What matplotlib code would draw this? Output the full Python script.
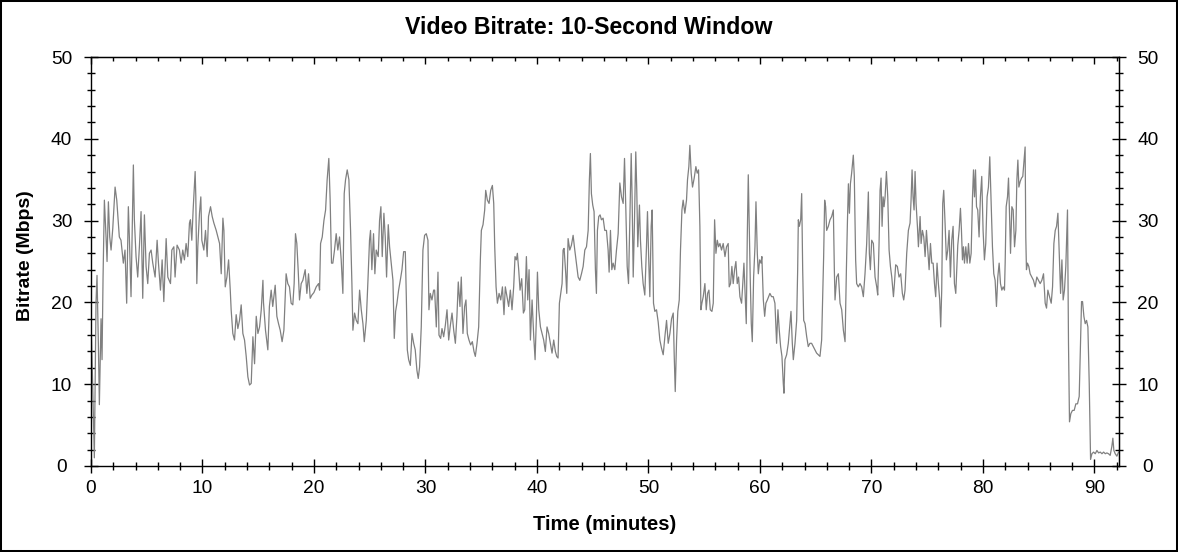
import matplotlib
matplotlib.use("Agg")
import matplotlib.pyplot as plt
from matplotlib.patches import Rectangle
from matplotlib.ticker import MultipleLocator

plt.rcParams['font.family'] = ['Liberation Sans', 'DejaVu Sans']

# ---------------------------------------------------------------------------
# Bitrate readings (minutes, Mbps), split into chunks of roughly 15 minutes
# ---------------------------------------------------------------------------
t_00 = [0.0, 0.15, 0.3, 0.45, 0.54, 0.66, 0.75, 0.9, 0.99, 1.08,
        1.2, 1.35, 1.44, 1.56, 1.68, 1.8, 1.95, 2.16, 2.31, 2.54,
        2.69, 2.9, 3.05, 3.2, 3.35, 3.44, 3.59, 3.8, 3.89, 4.04,
        4.19, 4.34, 4.49, 4.64, 4.79, 4.94, 5.09, 5.24, 5.39, 5.54,
        5.75, 5.93, 6.05, 6.23, 6.38, 6.53, 6.74, 6.89, 7.13, 7.25,
        7.43, 7.54, 7.72, 7.93, 8.08, 8.23, 8.38, 8.53, 8.68, 8.83,
        8.92, 9.04, 9.16, 9.34, 9.4, 9.49, 9.58, 9.73, 9.85, 9.94,
        10.12, 10.27, 10.42, 10.54, 10.72, 10.87, 11.02, 11.23, 11.38, 11.53,
        11.68, 11.83, 11.92, 12.04, 12.19, 12.34, 12.49, 12.57, 12.72, 12.87,
        13.02, 13.17, 13.32, 13.47, 13.62, 13.77, 13.92, 14.07, 14.22, 14.37,
        14.52, 14.67, 14.82, 14.97, 15.12, 15.27, 15.42]
v_00 = [18, 10, 1, 20, 23.3, 15, 7.5, 18, 13, 23,
        32.5, 28, 25, 32.3, 28, 26.4, 29, 34.1, 32.5, 28,
        27.6, 24.8, 26.4, 19.9, 31.7, 28, 20.7, 36.8, 30.1, 25.6,
        23.1, 26.8, 31.1, 20.5, 30.7, 24.4, 22.3, 26, 26.4, 24.8,
        23.1, 27.6, 24.8, 21.5, 25.2, 20.1, 27.8, 23.1, 22.3, 26.4,
        26.8, 23.1, 27, 26.4, 24.8, 26.4, 25.2, 27.2, 25.6, 29.7,
        30.1, 27.6, 31.3, 36, 33, 22.3, 26.8, 30.9, 32.9, 27.6,
        26.4, 28.8, 25.6, 30.5, 31.7, 30.5, 29.7, 28.8, 28, 27.2,
        23.5, 30.3, 28.8, 21.9, 23.1, 25.2, 21.5, 19.1, 16.2, 15.4,
        18.5, 16.8, 17.8, 19.7, 16.2, 15.4, 13.4, 10.9, 9.9, 10.1,
        15.8, 12.5, 18.3, 16.2, 17, 19.1, 22.7]

t_15 = [15.47, 15.65, 15.86, 16.0, 16.16, 16.3, 16.52, 16.67, 16.82, 16.97,
        17.14, 17.3, 17.5, 17.65, 17.8, 17.95, 18.1, 18.22, 18.34, 18.46,
        18.58, 18.7, 18.85, 19.0, 19.21, 19.36, 19.51, 19.66, 19.81, 19.99,
        20.2, 20.41, 20.5, 20.59, 20.74, 20.89, 21.04, 21.18, 21.33, 21.45,
        21.57, 21.69, 21.84, 21.99, 22.14, 22.29, 22.44, 22.59, 22.71, 22.83,
        22.98, 23.13, 23.28, 23.4, 23.49, 23.64, 23.79, 23.94, 24.09, 24.24,
        24.39, 24.51, 24.69, 24.84, 24.98, 25.07, 25.19, 25.34, 25.46, 25.58,
        25.76, 25.88, 26.0, 26.12, 26.27, 26.39, 26.51, 26.66, 26.78, 26.93,
        27.08, 27.2, 27.32, 27.44, 27.59, 27.74, 27.89, 28.04, 28.19, 28.28,
        28.37, 28.49, 28.64, 28.79, 28.94, 29.08, 29.23, 29.35, 29.47, 29.62,
        29.77, 29.92, 30.07, 30.22, 30.31, 30.43, 30.58, 30.73]
v_15 = [20, 16.6, 14.2, 19.5, 21.5, 19.5, 22.1, 18.3, 17.4, 16.6,
        15.2, 16.6, 23.5, 22.3, 21.9, 19.9, 19.7, 22.3, 28.4, 27.2,
        24, 20.3, 22.3, 22.7, 24, 21.1, 23.5, 20.5, 20.9, 21.2,
        21.9, 22.3, 21.5, 27.2, 28, 30, 31.3, 35, 37.6, 32.5,
        24.8, 24.8, 26.4, 28.4, 26.4, 28, 25.2, 21.1, 33.3, 35,
        36.2, 35, 28.8, 22.3, 16.6, 18.7, 17.8, 17.4, 21.5, 19.1,
        17.4, 15.2, 17.8, 22.7, 27.6, 28.8, 24, 28.4, 23.5, 26.4,
        25.6, 30, 31.7, 25.6, 30.9, 28, 23.1, 29.5, 26.8, 24.8,
        22.7, 15.6, 18.9, 19.9, 21.5, 22.7, 24, 26.2, 26.2, 20.7,
        14.2, 13, 12.3, 16.2, 15, 14.2, 11.7, 10.7, 12.1, 17,
        26.4, 28.2, 28.4, 27.6, 19.1, 21.1, 20.3, 21.5]

t_31 = [30.82, 30.97, 31.12, 31.21, 31.36, 31.48, 31.63, 31.78, 31.93, 32.08,
        32.23, 32.38, 32.53, 32.68, 32.82, 32.94, 33.09, 33.21, 33.36, 33.51,
        33.63, 33.75, 33.9, 34.05, 34.2, 34.35, 34.47, 34.62, 34.77, 34.92,
        35.01, 35.16, 35.31, 35.4, 35.55, 35.7, 35.85, 36.0, 36.12, 36.21,
        36.33, 36.45, 36.6, 36.75, 36.9, 37.04, 37.16, 37.31, 37.46, 37.61,
        37.76, 37.91, 38.03, 38.15, 38.24, 38.36, 38.48, 38.63, 38.78, 38.9,
        39.05, 39.17, 39.29, 39.41, 39.56, 39.71, 39.83, 39.95, 40.04, 40.16,
        40.31, 40.46, 40.6, 40.75, 40.9, 41.05, 41.2, 41.35, 41.5, 41.65,
        41.77, 41.89, 42.01, 42.13, 42.25, 42.34, 42.43, 42.58, 42.67, 42.79,
        42.94, 43.09, 43.24, 43.39, 43.54, 43.69, 43.84, 43.99, 44.14, 44.29,
        44.44, 44.59, 44.7, 44.79, 44.88, 45.0, 45.12, 45.24, 45.33, 45.42,
        45.54, 45.66, 45.78, 45.93, 46.08, 46.23, 46.38, 46.47, 46.59, 46.71,
        46.83, 46.98]
v_31 = [21.5, 17, 23.7, 16, 15.6, 16.8, 15.8, 17.2, 19.1, 15.4,
        17.2, 18.7, 16.6, 15, 18.3, 22.5, 19.5, 23.1, 16.2, 19.5,
        20.3, 16.2, 15.4, 14.8, 15.2, 14, 13.4, 15, 17, 25.2,
        28.8, 29.5, 31.3, 33.7, 32.5, 32.1, 33.7, 34.3, 32.1, 26.8,
        21.9, 19.9, 21.1, 20.3, 21.9, 18.5, 21.9, 20.7, 19.5, 21.5,
        19.1, 21.9, 25.6, 25.2, 26, 24, 21.5, 22.9, 18.7, 19.1,
        25.6, 20.3, 24, 15.4, 20.3, 15.8, 13, 18.3, 23.7, 19.1,
        17, 16.2, 15.4, 14, 17, 16.2, 15, 13.8, 15.4, 14,
        13.4, 13.2, 19.9, 21.1, 22.3, 26.4, 26.6, 23.5, 21.1, 27.8,
        26.4, 27, 28.2, 26.4, 24.8, 23.1, 22.7, 23.5, 24.4, 26.4,
        26.8, 28.8, 35, 38.2, 33.3, 31.9, 31.1, 24, 21.1, 28.8,
        30.5, 30.7, 30.1, 30.3, 28.8, 28.8, 26.4, 23.7, 28.8, 24,
        24.8, 24]

t_47 = [47.13, 47.28, 47.43, 47.58, 47.73, 47.85, 47.97, 48.09, 48.21, 48.33,
        48.45, 48.53, 48.63, 48.74, 48.86, 48.95, 49.04, 49.19, 49.28, 49.4,
        49.52, 49.67, 49.82, 49.91, 50.03, 50.12, 50.24, 50.33, 50.45, 50.57,
        50.72, 50.87, 51.02, 51.17, 51.32, 51.47, 51.62, 51.77, 51.92, 52.07,
        52.22, 52.31, 52.4, 52.52, 52.63, 52.76, 52.87, 53.0, 53.11, 53.26,
        53.41, 53.5, 53.62, 53.71, 53.83, 53.95, 54.1, 54.25, 54.37, 54.49,
        54.61, 54.7, 54.79, 54.91, 55.06, 55.18, 55.3, 55.42, 55.54, 55.69,
        55.81, 55.93, 56.05, 56.17, 56.29, 56.41, 56.55, 56.7, 56.86, 57.0,
        57.15, 57.24, 57.36, 57.48, 57.6, 57.72, 57.84, 57.96, 58.08, 58.2,
        58.35, 58.44, 58.56, 58.68, 58.77, 58.86, 58.95, 59.04, 59.13, 59.22,
        59.31, 59.43, 59.55, 59.64, 59.76, 59.85, 59.97, 60.09, 60.17, 60.3,
        60.42, 60.53, 60.66, 60.77, 60.89, 61.04, 61.19, 61.34, 61.49, 61.61,
        61.73, 61.85, 61.97, 62.09, 62.15]
v_47 = [26.4, 28.4, 34.6, 32.9, 32.1, 37.6, 31.3, 24.4, 22.3, 30.5,
        38.2, 32.9, 23.1, 29.7, 38.4, 33.7, 26.8, 31.9, 27.6, 24.4,
        22.3, 20.9, 26.8, 31.1, 24.8, 20.7, 29.3, 31.3, 19.9, 18.9,
        19.1, 17.6, 15.4, 14.4, 13.6, 15.8, 17.8, 15, 16.2, 18,
        18.7, 13.4, 9.1, 15.4, 18.9, 20.3, 26.4, 31.3, 32.5, 30.9,
        32.5, 35, 36.6, 39.2, 35.8, 34.1, 35.2, 36.6, 35.8, 36.2,
        29.3, 19.1, 19.9, 20.7, 22.3, 19.1, 21.1, 21.5, 19.1, 18.9,
        19.9, 30.1, 26, 27.6, 26.8, 27.2, 26.4, 27.2, 25.6, 26.8,
        27.2, 21.9, 22.3, 24.4, 22.3, 24, 25, 22.3, 23.1, 20.7,
        19.9, 21.9, 24.8, 20.7, 17.4, 28, 35.6, 29.3, 22.7, 17.4,
        15.2, 23.1, 26.8, 32.3, 26, 23.5, 25.2, 24.8, 25.6, 20.3,
        18.3, 19.9, 20.3, 20.7, 21.1, 20.7, 20.7, 19.9, 15, 19.1,
        16.6, 14.6, 13.4, 10.1, 8.9]

t_62 = [62.24, 62.39, 62.54, 62.69, 62.78, 62.9, 62.99, 63.14, 63.29, 63.38,
        63.44, 63.53, 63.65, 63.74, 63.83, 63.92, 64.04, 64.19, 64.33, 64.48,
        64.63, 64.78, 64.93, 65.08, 65.23, 65.38, 65.53, 65.62, 65.71, 65.8,
        65.89, 65.98, 66.13, 66.28, 66.43, 66.58, 66.67, 66.73, 66.88, 67.03,
        67.18, 67.33, 67.48, 67.63, 67.75, 67.84, 67.93, 68.02, 68.11, 68.22,
        68.37, 68.46, 68.58, 68.67, 68.82, 68.97, 69.12, 69.27, 69.42, 69.57,
        69.72, 69.81, 69.9, 70.02, 70.17, 70.32, 70.47, 70.56, 70.68, 70.77,
        70.86, 70.95, 71.04, 71.13, 71.22, 71.34, 71.46, 71.58, 71.7, 71.82,
        71.97, 72.06, 72.17, 72.32, 72.47, 72.62, 72.77, 72.89, 73.01, 73.16,
        73.31, 73.46, 73.55, 73.64, 73.73, 73.82, 73.91, 74.0, 74.12, 74.21,
        74.36, 74.45, 74.57, 74.69, 74.81, 74.93, 75.05, 75.17, 75.29, 75.41,
        75.53, 75.65, 75.76, 75.88, 76.0, 76.12, 76.21, 76.3, 76.39, 76.48,
        76.6, 76.72, 76.84, 76.96, 77.08, 77.2, 77.32, 77.44, 77.56]
v_62 = [13, 13.6, 15, 17.4, 18.9, 15, 13, 15, 17.8, 24,
        30.1, 29.3, 30.1, 33.3, 24, 17.8, 17.4, 15.8, 14.6, 15,
        15, 14.6, 14.2, 13.8, 13.6, 13.4, 15.4, 20.3, 25.6, 32.5,
        31.7, 28.8, 29.3, 30.1, 30.5, 31.3, 24, 20.3, 23.1, 23.5,
        19.9, 19.1, 16.6, 15.2, 24, 29.7, 34.5, 30.9, 34.5, 35.8,
        38, 35.4, 25.2, 22.3, 21.9, 22.3, 21.9, 20.7, 23.5, 27.2,
        33.5, 26, 24, 27.6, 27.2, 23.1, 21.9, 20.9, 27.2, 33.7,
        35.2, 29.3, 32.9, 31.7, 32.9, 36, 32.9, 26.4, 24.4, 23.1,
        20.7, 22.3, 24.6, 24.4, 23.1, 23.5, 21.1, 20.3, 21.5, 26,
        28.8, 29.7, 32.5, 36.2, 32.9, 31.3, 36, 32.1, 29.3, 26.8,
        30.5, 27.2, 28.8, 28, 25.6, 28.8, 26.4, 24, 27.2, 24.8,
        24.8, 22.3, 20.7, 24.8, 22.3, 20.3, 17, 21.5, 32.1, 33.7,
        29.7, 25.2, 26.4, 28.8, 23.1, 27.6, 29.3, 22.3, 21.1]

t_77 = [77.74, 77.86, 77.98, 78.07, 78.16, 78.25, 78.34, 78.46, 78.58, 78.7,
        78.82, 78.94, 79.06, 79.15, 79.24, 79.33, 79.42, 79.53, 79.65, 79.77,
        79.89, 80.01, 80.13, 80.25, 80.37, 80.49, 80.61, 80.73, 80.85, 80.97,
        81.09, 81.21, 81.33, 81.45, 81.57, 81.69, 81.81, 81.93, 81.99, 82.08,
        82.2, 82.29, 82.38, 82.47, 82.59, 82.71, 82.83, 82.95, 83.04, 83.13,
        83.22, 83.34, 83.46, 83.57, 83.69, 83.78, 83.84, 83.9, 83.99, 84.11,
        84.23, 84.38, 84.53, 84.68, 84.83, 84.98, 85.13, 85.28, 85.43, 85.58,
        85.7, 85.82, 85.97, 86.12, 86.24, 86.36, 86.48, 86.6, 86.72, 86.84,
        86.96, 87.08, 87.19, 87.31, 87.43, 87.58, 87.67, 87.76, 87.88, 88.03,
        88.18, 88.33, 88.48, 88.63, 88.75, 88.84, 88.93, 89.05, 89.17, 89.29,
        89.41, 89.53, 89.65, 89.77, 89.92, 90.07, 90.22, 90.37, 90.52, 90.67,
        90.82, 90.97, 91.11, 91.26, 91.41, 91.56, 91.65, 91.74, 91.86, 92.01,
        92.16]
v_77 = [27, 28.8, 31.5, 28.8, 25.2, 26.8, 24.8, 26.8, 24.8, 27.2,
        24.8, 26, 32.9, 36.2, 32.9, 36.2, 31.7, 31.3, 28, 32.9,
        35.4, 28.8, 25.2, 27.2, 32.9, 34.1, 37.8, 32.3, 26.8, 23.5,
        22.7, 19.5, 23.1, 24.8, 22.3, 21.5, 21.9, 21.5, 24.8, 31.7,
        32.9, 35.2, 30.9, 26, 31.7, 31.3, 26.8, 28.8, 35, 37.4,
        34.1, 34.8, 35.2, 35.4, 37.4, 39, 28, 24, 24.8, 24.4,
        23.5, 23.1, 22.7, 21.9, 23.1, 22.7, 22.3, 22.7, 23.5, 19.9,
        19.3, 21.5, 20.7, 19.9, 21.9, 27.2, 28.8, 29.3, 30.9, 26,
        21.1, 25.2, 20.3, 21.5, 24.4, 31.3, 15, 5.4, 6.4, 6.8,
        6.8, 7.6, 7.6, 8.5, 15, 20.1, 20.1, 18.3, 17.4, 17.8,
        17, 10.1, 0.8, 1.5, 1.7, 1.5, 1.9, 1.6, 1.7, 1.5,
        1.7, 1.5, 1.6, 1.5, 1.3, 2.4, 3.4, 1.9, 1.5, 1.2,
        1.7]

minutes = t_00 + t_15 + t_31 + t_47 + t_62 + t_77
mbps = v_00 + v_15 + v_31 + v_47 + v_62 + v_77

x_major = list(range(0, 91, 10))
y_major = list(range(0, 51, 10))

W, H = 1178, 552
fig = plt.figure(figsize=(W / 100, H / 100), dpi=100)
fig.patch.set_facecolor('white')

ax = fig.add_axes([91 / W, 1 - 466 / H, (1119 - 91) / W, (466 - 57) / H])
ax.plot(minutes, mbps, color='#808080', linewidth=0.9)
ax.set_xlim(0, 92.2)
ax.set_ylim(0, 50)

for sp in ax.spines.values():
    sp.set_linewidth(1.0)
    sp.set_color('black')

ax.set_xticks(x_major)
ax.set_yticks(y_major)
ax.xaxis.set_minor_locator(MultipleLocator(2))
ax.yaxis.set_minor_locator(MultipleLocator(2))
ax.tick_params(which='major', direction='inout', length=10.5, width=1,
               labelsize=13.8, colors='black')
ax.tick_params(which='minor', direction='inout', length=5.5, width=1)
ax.tick_params(axis='y', pad=16)
ax.tick_params(axis='x', pad=4.5)
for lab in ax.get_yticklabels():
    lab.set_horizontalalignment('center')

# right-hand axis with the same scale
ax_r = ax.secondary_yaxis('right')
ax_r.set_yticks(y_major)
ax_r.yaxis.set_minor_locator(MultipleLocator(2))
ax_r.tick_params(which='major', direction='inout', length=10.5, width=1,
                 labelsize=13.8, pad=15.5)
ax_r.tick_params(which='minor', direction='inout', length=5.5, width=1)
for lab in ax_r.get_yticklabels():
    lab.set_horizontalalignment('center')

# top axis: ticks pointing inward only
ax_t = ax.secondary_xaxis('top')
ax_t.set_xticks(x_major)
ax_t.xaxis.set_minor_locator(MultipleLocator(2))
ax_t.tick_params(which='major', direction='in', length=5, width=1, labeltop=False)
ax_t.tick_params(which='minor', direction='in', length=3, width=1)

fig.text(0.5, 1 - 28 / H, "Video Bitrate: 10-Second Window",
         ha='center', va='center', fontsize=16.7, fontweight='bold')
fig.text(605 / W, 1 - 525 / H, "Time (minutes)",
         ha='center', va='center', fontsize=14.6, fontweight='bold')
fig.text(25 / W, 1 - 256 / H, "Bitrate (Mbps)", rotation=90,
         ha='center', va='center', fontsize=14, fontweight='bold')

fig.add_artist(Rectangle((0, 0), 1, 1, transform=fig.transFigure, fill=False,
                         edgecolor='black', linewidth=2.9))

fig.savefig("out.png", dpi=100)
